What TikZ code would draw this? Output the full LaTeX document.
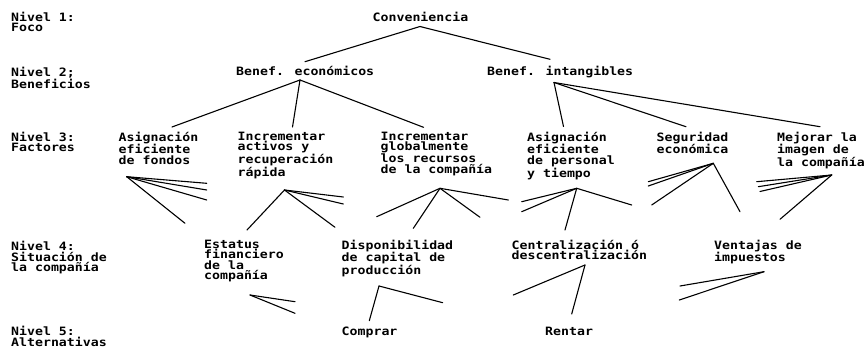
\documentclass[tikz,border=0pt]{standalone}
\usepackage{fontspec}
\newfontfamily\scanfont{DejaVu Sans Mono}[FakeStretch=1.15]
\newcommand\lblfont{\scanfont\bfseries\fontsize{11.5}{10.6}\selectfont}
\tikzset{
  lbl/.style={anchor=north west, inner sep=0pt, align=left, font=\lblfont,
    execute at begin node={\rule{0pt}{9pt}}},
  link/.style={line width=1.1pt, line cap=round, black}
}
\begin{document}
\begin{tikzpicture}[x=1pt, y=-1pt]
\useasboundingbox (0,0) rectangle (865,358);

% level captions on the left
\node[lbl] (n1) at (11,11.5)  {Nivel 1:\\Foco};
\node[lbl] (n2) at (11,66.5)  {Nivel 2;\\Beneficios};
\node[lbl] (n3) at (11,131.5) {Nivel 3:\\Factores};
\node[lbl] (n4) at (11,241)   {Nivel 4:\\Situación de\\la compañía};
\node[lbl] (n5) at (11,326)   {Nivel 5:\\Alternativas};

% level 1 and 2
\node[lbl] (conv) at (372.5,11.7) {Conveniencia};
\node[lbl] (econ) at (236,66)     {Benef. económicos};
\node[lbl] (intg) at (487,66)     {Benef. intangibles};

% level 3
\node[lbl] (fond) at (118.5,131.5) {Asignación\\eficiente\\de fondos};
\node[lbl] (act)  at (237.5,131.5) {Incrementar\\activos y\\recuperación\\rápida};
\node[lbl] (glob) at (380.5,131.5) {Incrementar\\globalmente\\los recursos\\de la compañía};
\node[lbl] (pers) at (527,131.5)   {Asignación\\eficiente\\de personal\\y tiempo};
\node[lbl] (seg)  at (656.5,131.5) {Seguridad\\económica};
\node[lbl] (mej)  at (777,131.5)   {Mejorar la\\imagen de\\la compañía};

% level 4
\node[lbl] (est)  at (204,239.5)   {Estatus\\financiero\\de la\\compañía};
\node[lbl] (disp) at (341.5,239.5) {Disponibilidad\\de capital de\\producción};
\node[lbl] (cent) at (511.5,239.5) {Centralización ó\\descentralización};
\node[lbl] (vent) at (714,239.5)   {Ventajas de\\impuestos};

% level 5
\node[lbl] (comp) at (341.5,326) {Comprar};
\node[lbl] (rent) at (545,326)   {Rentar};

% junction points under each label
\coordinate (convB) at (420,26.5);
\coordinate (econT) at (305,61.7);
\coordinate (intgT) at (550,59.3);
\coordinate (econB) at (300,80);
\coordinate (intgB) at (554,82.5);
\coordinate (fondB) at (126.7,176.7);
\coordinate (actB)  at (284.5,190);
\coordinate (globB) at (440,188.3);
\coordinate (persB) at (576.7,188.3);
\coordinate (segB)  at (713.3,163.3);
\coordinate (mejB)  at (831.7,175);
\coordinate (estB)  at (250,295);
\coordinate (dispB) at (379,286);
\coordinate (centB) at (585,265);
\coordinate (ventB) at (764,271.7);

% free ends of the broken strokes
\coordinate (e1) at (172,127);
\coordinate (e2) at (292.5,127);
\coordinate (e3) at (423.5,127.3);
\coordinate (i1) at (563.5,126.5);
\coordinate (i2) at (686,126.7);
\coordinate (i3) at (820,126.7);

\coordinate (fond1) at (206.7,183.3);
\coordinate (fond2) at (206.7,190);
\coordinate (fond3) at (206.7,200);
\coordinate (fond4) at (185,223.3);

\coordinate (act1) at (343.3,197);
\coordinate (act2) at (343.3,204);
\coordinate (act3) at (335,227.3);
\coordinate (act4) at (247,230);

\coordinate (glob1) at (376.7,216.7);
\coordinate (glob2) at (413.3,228.3);
\coordinate (glob3) at (508.3,200);
\coordinate (glob4) at (480,217.3);

\coordinate (pers1) at (521.7,201.7);
\coordinate (pers2) at (521.7,211.7);
\coordinate (pers3) at (631.7,205);
\coordinate (pers4) at (565,230);

\coordinate (seg1) at (648.3,181.7);
\coordinate (seg2) at (648.3,186);
\coordinate (seg3) at (651.7,205);
\coordinate (seg4) at (740,211.7);

\coordinate (mej1) at (756.7,181.7);
\coordinate (mej2) at (758.3,186.7);
\coordinate (mej3) at (760,191.5);
\coordinate (mej4) at (780,219.3);

\coordinate (est1) at (295,301.7);
\coordinate (est2) at (295,313.3);
\coordinate (disp1) at (369.3,320.7);
\coordinate (disp2) at (442.7,302.7);
\coordinate (cent1) at (513.3,295);
\coordinate (cent2) at (571.7,314);
\coordinate (vent1) at (680,286);
\coordinate (vent2) at (679.3,300);

% level 1 -> level 2
\draw[link] (econT) -- (convB) -- (intgT);

% level 2 -> level 3
\draw[link] (econB) -- (e1);
\draw[link] (econB) -- (e2);
\draw[link] (econB) -- (e3);
\draw[link] (intgB) -- (i1);
\draw[link] (intgB) -- (i2);
\draw[link] (intgB) -- (i3);

% level 3 -> level 4
\foreach \k in {1,2,3,4} {
  \draw[link] (fondB) -- (fond\k);
  \draw[link] (actB) -- (act\k);
  \draw[link] (globB) -- (glob\k);
  \draw[link] (persB) -- (pers\k);
  \draw[link] (segB) -- (seg\k);
  \draw[link] (mejB) -- (mej\k);
}

% level 4 -> level 5
\foreach \k in {1,2} {
  \draw[link] (estB) -- (est\k);
  \draw[link] (dispB) -- (disp\k);
  \draw[link] (centB) -- (cent\k);
  \draw[link] (ventB) -- (vent\k);
}
\end{tikzpicture}
\end{document}
